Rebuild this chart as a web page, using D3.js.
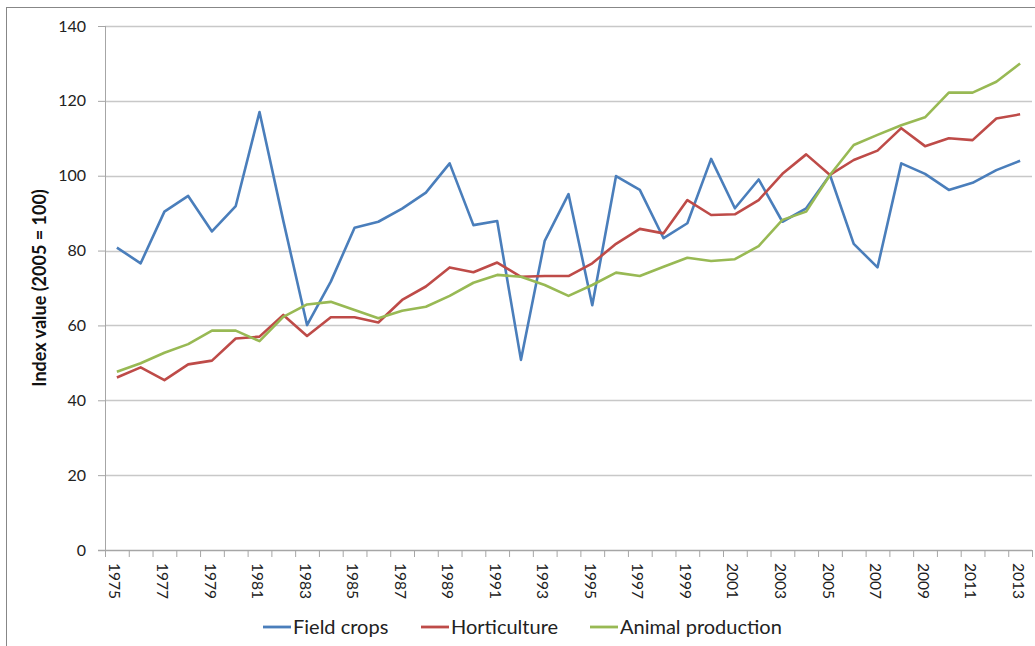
<!DOCTYPE html>
<html>
<head>
<meta charset="utf-8">
<script src="https://cdn.jsdelivr.net/npm/d3@7"></script>
<style>
  html, body { margin: 0; padding: 0; background: #fff; }
  svg { display: block; font-family: Lato, "Open Sans", sans-serif; }
</style>
</head>
<body>
<script>
(function (d3) {
  "use strict";

  /***** Data *****/
  var years = d3.range(1975, 2014);
  var fieldCrops = [80.8, 76.6, 90.4, 94.6, 85.1, 91.9, 117.0, 88.0, 60.1, 71.7,
    86.1, 87.7, 91.2, 95.5, 103.3, 86.8, 87.9, 50.8, 82.6, 95.1,
    65.4, 99.9, 96.2, 83.3, 87.3, 104.5, 91.3, 99.0, 87.7, 91.3,
    100.2, 81.8, 75.5, 103.3, 100.5, 96.2, 98.1, 101.5, 104.0];
  var horticulture = [46.1, 48.8, 45.4, 49.6, 50.6, 56.5, 57.0, 62.8, 57.2, 62.2,
    62.2, 60.8, 66.8, 70.4, 75.5, 74.2, 76.8, 73.0, 73.2, 73.2,
    76.6, 81.8, 85.8, 84.6, 93.5, 89.5, 89.7, 93.5, 100.5, 105.7,
    100.2, 104.2, 106.7, 112.7, 107.9, 110.0, 109.5, 115.3, 116.4];
  var animalProduction = [47.6, 49.9, 52.7, 55.0, 58.6, 58.6, 55.8, 62.3, 65.6, 66.3,
    64.1, 61.9, 63.9, 65.0, 67.9, 71.4, 73.5, 73.0, 70.8, 67.9,
    70.8, 74.1, 73.2, 75.7, 78.1, 77.2, 77.7, 81.2, 88.2, 90.4,
    100.2, 108.2, 110.9, 113.5, 115.6, 122.2, 122.2, 125.1, 130.0];
  var seriesNames = ["Field crops", "Horticulture", "Animal production"];
  var seriesColors = ["#4a7ebb", "#be4b48", "#98b954"];
  var yTicks = [0, 20, 40, 60, 80, 100, 120, 140];

  var series = [fieldCrops, horticulture, animalProduction].map(function (vals, i) {
    return { name: seriesNames[i], color: seriesColors[i], values: vals };
  });

  /***** Configuration *****/
  var width = 1035, height = 646;
  var margin = { top: 26, right: 3, bottom: 96, left: 105 };
  var chartWidth = width - margin.left - margin.right;
  var chartHeight = height - margin.top - margin.bottom;

  var xScale = d3.scaleBand().domain(years).range([0, chartWidth]);
  var yScale = d3.scaleLinear().domain([0, 140]).range([chartHeight, 0]);

  var svg = d3.select("body").append("svg")
      .attr("width", width)
      .attr("height", height);

  // outer frame
  svg.append("rect")
      .attr("x", 6.5).attr("y", 7.5)
      .attr("width", width).attr("height", height)
      .attr("fill", "none")
      .attr("stroke", "#878787")
      .attr("stroke-width", 1);

  var g = svg.append("g")
      .attr("transform", "translate(" + margin.left + "," + margin.top + ")");

  /***** Grid *****/
  g.append("g")
      .selectAll("line")
      .data(yTicks.filter(function (t) { return t > 0; }))
      .join("line")
      .attr("x1", 0).attr("x2", chartWidth)
      .attr("y1", function (d) { return Math.round(yScale(d)) + 0.5; })
      .attr("y2", function (d) { return Math.round(yScale(d)) + 0.5; })
      .attr("stroke", "#c8c8c8")
      .attr("stroke-width", 1.3);

  /***** Axes *****/
  var yAxis = d3.axisLeft(yScale).tickValues(yTicks).tickSize(7).tickPadding(12);
  var yAxisG = g.append("g").call(yAxis);
  yAxisG.select(".domain").attr("stroke", "#a6a6a6").attr("d", "M0.5," + chartHeight + "V0");
  yAxisG.selectAll(".tick line").attr("stroke", "#a6a6a6");
  yAxisG.selectAll(".tick text")
      .attr("font-size", 16)
      .attr("fill", "#222")
      .style("font-family", "Lato, 'Open Sans', sans-serif");

  // x axis: ticks at category boundaries
  var xAxisG = g.append("g").attr("transform", "translate(0," + chartHeight + ")");
  xAxisG.append("line")
      .attr("x1", -7).attr("x2", chartWidth)
      .attr("y1", 0.5).attr("y2", 0.5)
      .attr("stroke", "#a6a6a6").attr("stroke-width", 1.3);
  xAxisG.selectAll("line.tk")
      .data(years.concat([2014]))
      .join("line")
      .attr("class", "tk")
      .attr("x1", function (d) { return (d === 2014 ? chartWidth : xScale(d)) + 0.5; })
      .attr("x2", function (d) { return (d === 2014 ? chartWidth : xScale(d)) + 0.5; })
      .attr("y1", 0).attr("y2", 7)
      .attr("stroke", "#a6a6a6");
  xAxisG.selectAll("text")
      .data(years.filter(function (y) { return (y - 1975) % 2 === 0; }))
      .join("text")
      .attr("transform", function (d) {
        return "translate(" + (xScale(d) + xScale.bandwidth() / 2 - 2) + ",13) rotate(90)";
      })
      .attr("dy", "0.35em")
      .attr("font-size", 15.5)
      .attr("fill", "#222")
      .text(function (d) { return d; });

  // y label
  svg.append("text")
      .attr("transform", "translate(40," + (margin.top + chartHeight / 2) + ") rotate(-90)")
      .attr("text-anchor", "middle")
      .attr("dy", "0.35em")
      .attr("font-size", 18)
      .attr("font-weight", "bold")
      .attr("fill", "#111")
      .text("Index value (2005 = 100)");

  /***** Lines *****/
  var line = d3.line()
      .x(function (d, i) { return xScale(years[i]) + xScale.bandwidth() / 2; })
      .y(function (d) { return yScale(d); });

  g.selectAll("path.series")
      .data(series)
      .join("path")
      .attr("class", "series")
      .attr("fill", "none")
      .attr("stroke", function (d) { return d.color; })
      .attr("stroke-width", 2.6)
      .attr("stroke-linejoin", "round")
      .attr("d", function (d) { return line(d.values); });

  /***** Legend *****/
  var legendX = [263, 421, 590];
  var legend = svg.append("g").attr("transform", "translate(0,627)");
  var items = legend.selectAll("g")
      .data(series)
      .join("g")
      .attr("transform", function (d, i) { return "translate(" + legendX[i] + ",0)"; });
  items.append("line")
      .attr("x1", 0).attr("x2", 28)
      .attr("y1", 0).attr("y2", 0)
      .attr("stroke", function (d) { return d.color; })
      .attr("stroke-width", 2.8);
  items.append("text")
      .attr("x", 30)
      .attr("dy", "0.35em")
      .attr("font-size", 20)
      .attr("fill", "#222")
      .text(function (d) { return d.name; });

})(d3);
</script>
</body>
</html>
